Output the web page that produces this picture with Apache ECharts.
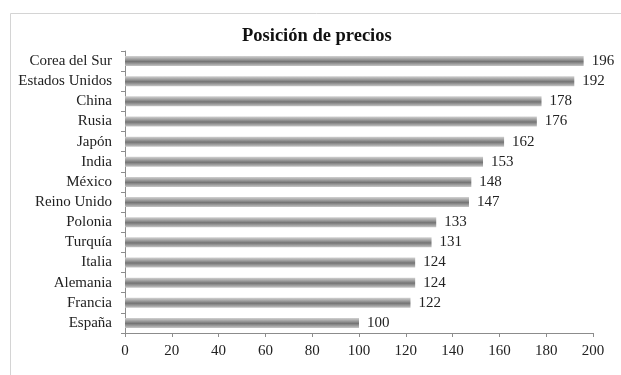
<!DOCTYPE html>
<html>
<head>
<meta charset="utf-8">
<script src="https://cdn.jsdelivr.net/npm/echarts@6/dist/echarts.min.js"></script>
<style>
  html, body { margin: 0; padding: 0; background: #fff; }
  #chart { width: 621px; height: 375px; }
</style>
</head>
<body>
<div id="chart"></div>
<script>
// Price index per country, listed top to bottom
const countries = ['Corea del Sur', 'Estados Unidos', 'China', 'Rusia', 'Japón', 'India', 'México',
  'Reino Unido', 'Polonia', 'Turquía', 'Italia', 'Alemania', 'Francia', 'España'];
const prices = [196, 192, 178, 176, 162, 153, 148, 147, 133, 131, 124, 124, 122, 100];
const xTicks = [0, 20, 40, 60, 80, 100, 120, 140, 160, 180, 200];

const font = '"Liberation Serif", "DejaVu Serif", serif';
const chart = echarts.init(document.getElementById('chart'));

chart.setOption({
  animation: false,
  backgroundColor: '#fff',
  graphic: [{
    type: 'rect',
    shape: { x: 10.5, y: 13.5, width: 700, height: 500 },
    style: { fill: 'none', stroke: '#d4d4d4', lineWidth: 1 },
    silent: true
  }],
  title: {
    text: 'Posición de precios',
    left: 237, top: 22,
    textStyle: { fontFamily: font, fontWeight: 'bold', fontSize: 18.5, color: '#111' }
  },
  grid: { left: 125, right: 28, top: 51, bottom: 42 },
  xAxis: {
    type: 'value',
    min: xTicks[0], max: xTicks[xTicks.length - 1], interval: 20,
    axisLine: { show: true, lineStyle: { color: '#8c8c8c' } },
    axisTick: { show: true, length: 4, lineStyle: { color: '#8c8c8c' } },
    splitLine: { show: false },
    axisLabel: { fontFamily: font, fontSize: 15, color: '#222', margin: 11 }
  },
  yAxis: {
    type: 'category',
    data: countries,
    inverse: true,
    axisLine: { show: true, lineStyle: { color: '#8c8c8c' } },
    axisTick: { show: true, length: 4, lineStyle: { color: '#8c8c8c' } },
    axisLabel: { fontFamily: font, fontSize: 15, color: '#222', margin: 13 }
  },
  series: [{
    type: 'bar',
    data: prices,
    barWidth: 10,
    itemStyle: {
      color: new echarts.graphic.LinearGradient(0, 0, 0, 1, [
        { offset: 0, color: '#d2d2d2' },
        { offset: 0.3, color: '#a0a0a0' },
        { offset: 0.55, color: '#747474' },
        { offset: 0.8, color: '#a0a0a0' },
        { offset: 1, color: '#c6c6c6' }
      ])
    },
    label: {
      show: true, position: 'right', distance: 8,
      fontFamily: font, fontSize: 15, color: '#222'
    }
  }]
});
</script>
</body>
</html>
